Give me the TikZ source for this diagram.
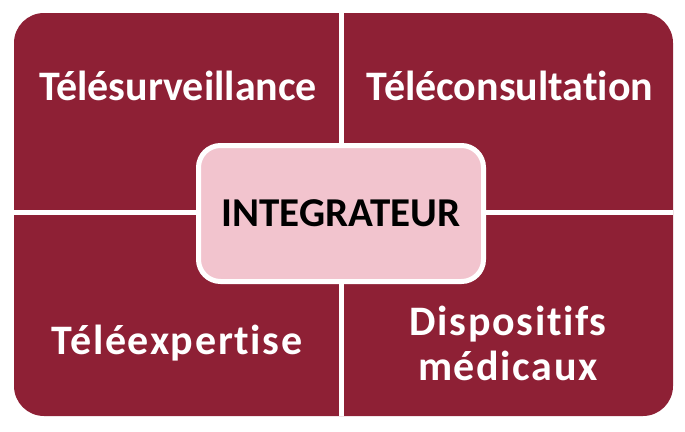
\documentclass[tikz,border=0pt]{standalone}
\usepackage{fontspec}
\setmainfont{Carlito}[Ligatures=NoCommon]
\definecolor{wine}{HTML}{8E2035}
\definecolor{rosepale}{HTML}{F2C4CE}
\begin{document}
\begin{tikzpicture}[x=1pt,y=-1pt]

\tikzstyle{quadtext} = [text=white,font=\fontsize{42}{45}\selectfont\bfseries,align=center]
\tikzstyle{widetext} = [quadtext,font=\fontsize{42}{45}\selectfont\bfseries\addfontfeature{LetterSpace=4}]
\tikzstyle{centerbox} = [draw=white,line width=5,fill=rosepale,rounded corners=22,minimum width=285,minimum height=136,font=\fontsize{41}{44}\selectfont\bfseries]

\useasboundingbox (0,0) rectangle (685,431);

\fill [wine,rounded corners=30] (14,13) rectangle (673,416);
\draw [white,line width=5] (341.5,13) -- (341.5,416);
\draw [white,line width=5] (14,212.5) -- (673,212.5);

\node [quadtext] (surv) at (178,86) {Télésurveillance};
\node [quadtext] (consult) at (510,86) {Téléconsultation};
\node [widetext] (expert) at (177,343) {Téléexpertise};
\node [widetext] (dispo) at (508,343) {Dispositifs\\médicaux};

\node [centerbox] (integ) at (341,213.5) {INTEGRATEUR};

\end{tikzpicture}
\end{document}
